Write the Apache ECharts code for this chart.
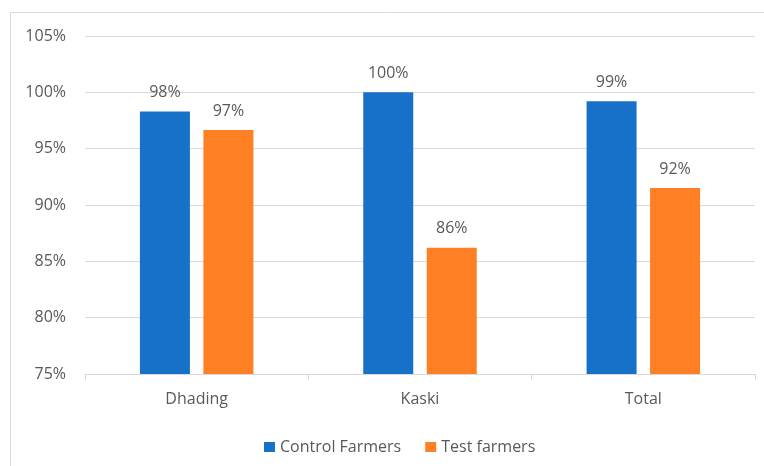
<!DOCTYPE html>
<html>
<head>
<meta charset="utf-8">
<script src="https://cdn.jsdelivr.net/npm/echarts@6/dist/echarts.min.js"></script>
<style>
  html, body { margin: 0; padding: 0; background: #fff; }
  #chart { width: 764px; height: 466px; }
</style>
</head>
<body>
<div id="chart"></div>
<script>
// Share of farmers (%) by district and group
const categories = ['Dhading', 'Kaski', 'Total'];
const seriesNames = ['Control Farmers', 'Test farmers'];
const controlFarmers = [98.3, 100.0, 99.2];
const testFarmers = [96.65, 86.2, 91.5];
const yTicks = [75, 80, 85, 90, 95, 100, 105];

const FONT = '"Open Sans", "Noto Sans", sans-serif';
const TEXT_GREY = '#595959';
const colors = ['#1771c8', '#fe7f24'];

const chart = echarts.init(document.getElementById('chart'), null, { renderer: 'canvas' });

const barLabel = {
  show: true,
  position: 'top',
  distance: 11,
  color: TEXT_GREY,
  fontFamily: FONT,
  fontSize: 16,
  formatter: p => Math.round(p.value) + '%'
};

chart.setOption({
  animation: false,
  backgroundColor: '#ffffff',
  color: colors,
  graphic: [{
    type: 'rect',
    shape: { x: 10.5, y: 12.5, width: 800, height: 500 },
    style: { fill: 'none', stroke: '#d9d9d9', lineWidth: 1 },
    silent: true
  }],
  grid: { left: 85, right: 9, top: 36, bottom: 92 },
  legend: {
    data: seriesNames,
    left: 259,
    top: 433,
    itemWidth: 11,
    itemHeight: 10,
    itemGap: 24,
    icon: 'rect',
    textStyle: { color: TEXT_GREY, fontFamily: FONT, fontSize: 16, lineHeight: 18 }
  },
  xAxis: {
    type: 'category',
    data: categories,
    axisLine: { lineStyle: { color: '#d9d9d9', width: 1 } },
    axisTick: { show: true, alignWithLabel: false, length: 6, lineStyle: { color: '#d9d9d9' } },
    axisLabel: { color: TEXT_GREY, fontFamily: FONT, fontSize: 16, margin: 17 }
  },
  yAxis: {
    type: 'value',
    min: yTicks[0],
    max: yTicks[yTicks.length - 1],
    interval: 5,
    axisLine: { show: false },
    axisTick: { show: false },
    splitLine: { lineStyle: { color: '#d9d9d9', width: 1 } },
    axisLabel: {
      color: TEXT_GREY, fontFamily: FONT, fontSize: 16, margin: 19,
      formatter: v => v + '%'
    }
  },
  series: [
    {
      name: seriesNames[0],
      type: 'bar',
      data: controlFarmers,
      barWidth: 50,
      barGap: '27%',
      label: barLabel
    },
    {
      name: seriesNames[1],
      type: 'bar',
      data: testFarmers,
      barWidth: 50,
      barGap: '27%',
      label: barLabel
    }
  ]
});
</script>
</body>
</html>
